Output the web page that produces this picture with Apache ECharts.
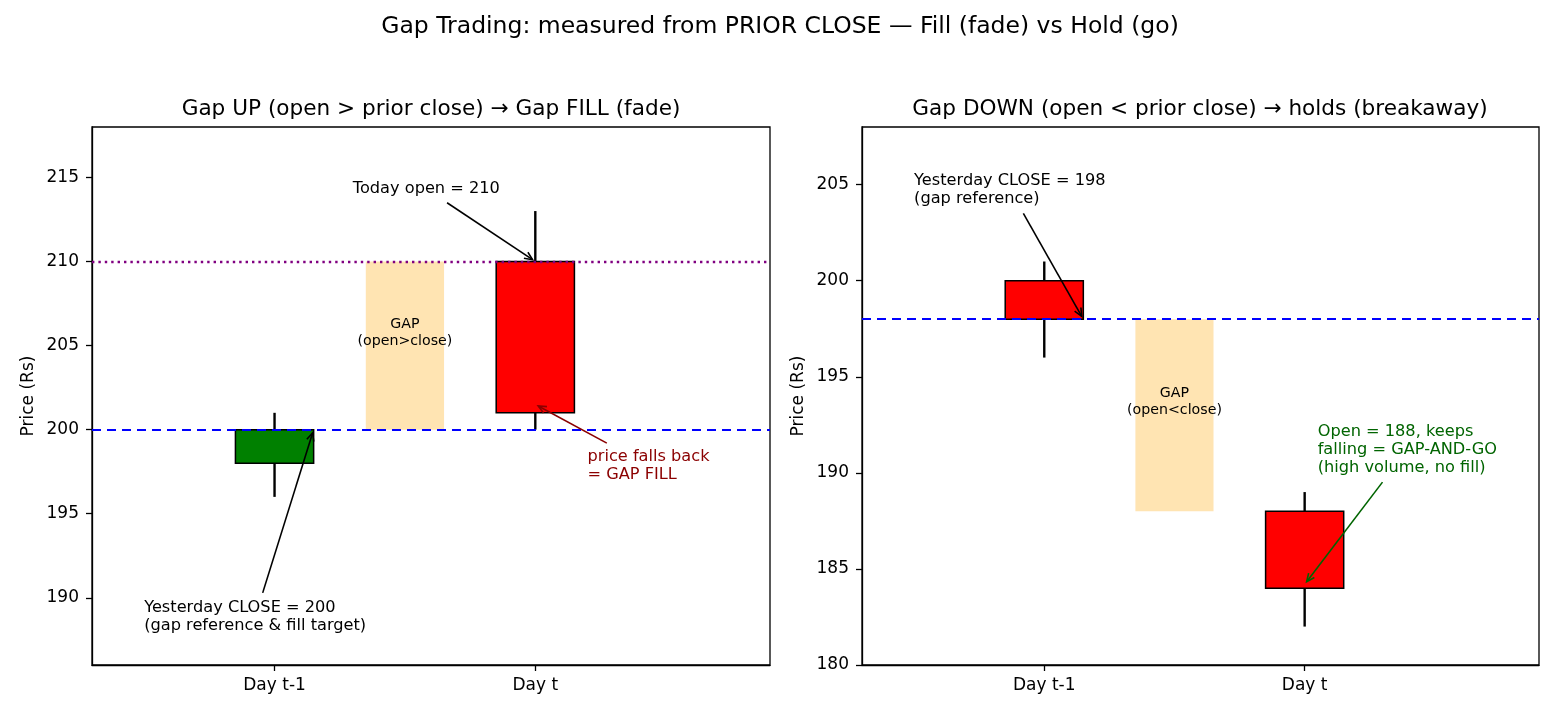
<!DOCTYPE html>
<html><head><meta charset="utf-8">
<script src="https://cdn.jsdelivr.net/npm/echarts@6/dist/echarts.min.js"></script>
<style>html,body{margin:0;padding:0;background:#fff}#c{width:1560px;height:715px}</style>
</head><body><div id="c"></div>
<script>
// ---------- data ----------
const dayLabels = ['Day t-1', 'Day t'];
const dayPos = [0, 1];

// Left panel: Gap UP -> fill
const leftOpen = [198, 210];
const leftClose = [200, 201];
const leftLow = [196, 200];
const leftHigh = [201, 213];
const leftColors = ['#008000', '#ff0000'];
const leftGap = [0.5, 200, 210];          // x, low, high
const leftGapLabel = ['GAP\n(open>close)', 205];
const leftPriorClose = 200;
const leftTodayOpen = 210;
const leftYTicks = [190, 195, 200, 205, 210, 215];
const leftYRange = [186, 218];

// Right panel: Gap DOWN -> holds
const rightOpen = [200, 188];
const rightClose = [198, 184];
const rightLow = [196, 182];
const rightHigh = [201, 189];
const rightColors = ['#ff0000', '#ff0000'];
const rightGap = [0.5, 188, 198];
const rightGapLabel = ['GAP\n(open<close)', 193];
const rightPriorClose = 198;
const rightYTicks = [180, 185, 190, 195, 200, 205];
const rightYRange = [180, 208];

const xRange = [-0.7, 1.9];

// annotations: text, [textX, textY(baseline)], [targetX, targetY], colour
const leftAnnTexts = ['Today open = 210', 'Yesterday CLOSE = 200\n(gap reference & fill target)', 'price falls back\n= GAP FILL'];
const leftAnnTextPos = [[0.3, 214], [-0.5, 188], [1.2, 197]];
const leftAnnTargets = [[1.0, 210], [0.15, 200], [1.0, 201.5]];
const leftAnnColors = ['#000000', '#000000', '#8b0000'];

const rightAnnTexts = ['Yesterday CLOSE = 198\n(gap reference)', 'Open = 188, keeps\nfalling = GAP-AND-GO\n(high volume, no fill)'];
const rightAnnTextPos = [[-0.5, 204], [1.05, 190]];
const rightAnnTargets = [[0.15, 198], [1.0, 184.2]];
const rightAnnColors = ['#000000', '#006400'];

// ---------- styling ----------
const FONT = '"DejaVu Sans", sans-serif';
const CANDLE_W = 0.3;
const ANN_FS = 16.2, ANN_LH = 18;
const GAP_FS = 14.2, GAP_LH = 16.8;
const TICK_FS = 17;

const mctx = document.createElement('canvas').getContext('2d');
function textWidth(s, fs) {
  mctx.font = fs + 'px "DejaVu Sans"';
  return Math.max.apply(null, s.split('\n').map(l => mctx.measureText(l).width));
}

function candleSeries(g, opens, closes, lows, highs, colors) {
  const data = dayPos.map((x, i) => [x, opens[i], closes[i], lows[i], highs[i]]);
  return {
    type: 'custom', xAxisIndex: g, yAxisIndex: g, z: 3, data: data, silent: true,
    encode: { x: 0, y: [1, 2, 3, 4] },
    renderItem: function (params, api) {
      const x = api.value(0);
      const pO = api.coord([x, api.value(1)]), pC = api.coord([x, api.value(2)]);
      const pL = api.coord([x, api.value(3)]), pH = api.coord([x, api.value(4)]);
      const w = api.size([CANDLE_W, 0])[0];
      const top = Math.min(pO[1], pC[1]), bot = Math.max(pO[1], pC[1]);
      return { type: 'group', children: [
        { type: 'line', shape: { x1: pL[0], y1: pL[1], x2: pH[0], y2: pH[1] }, style: { stroke: '#000', lineWidth: 2.4 } },
        { type: 'rect', shape: { x: pO[0] - w / 2, y: top, width: w, height: bot - top }, style: { fill: colors[params.dataIndex], stroke: '#000', lineWidth: 1.5 } }
      ] };
    }
  };
}

function gapSeries(g, gap, label) {
  return {
    type: 'custom', xAxisIndex: g, yAxisIndex: g, z: 1, silent: true,
    data: [[gap[0], gap[1], gap[2], label[1]]],
    encode: { x: 0, y: [1, 2] },
    renderItem: function (params, api) {
      const x = api.value(0);
      const pLo = api.coord([x, api.value(1)]), pHi = api.coord([x, api.value(2)]);
      const pT = api.coord([x, api.value(3)]);
      const w = api.size([CANDLE_W, 0])[0];
      const bottom = pT[1] + GAP_LH / 2 - 0.33 * GAP_FS;
      return { type: 'group', children: [
        { type: 'rect', shape: { x: pLo[0] - w / 2, y: pHi[1], width: w, height: pLo[1] - pHi[1] }, style: { fill: 'rgba(255,165,0,0.3)' } },
        { type: 'text', style: { text: label[0], x: pT[0], y: bottom, font: GAP_FS + 'px ' + FONT, fill: '#000', align: 'center', verticalAlign: 'bottom', lineHeight: GAP_LH } }
      ] };
    }
  };
}

function annSeries(g, texts, tpos, targets, colors, markLines) {
  const data = texts.map((t, i) => [tpos[i][0], tpos[i][1], targets[i][0], targets[i][1]]);
  return {
    type: 'custom', xAxisIndex: g, yAxisIndex: g, z: 5, silent: true, clip: false,
    data: data, encode: { x: [0, 2], y: [1, 3] },
    markLine: { silent: true, symbol: 'none', animation: false, label: { show: false }, data: markLines },
    renderItem: function (params, api) {
      const i = params.dataIndex;
      const t = api.coord([api.value(0), api.value(1)]);
      const p = api.coord([api.value(2), api.value(3)]);
      const txt = texts[i];
      const n = txt.split('\n').length;
      const w = textWidth(txt, ANN_FS);
      const bottom = t[1] + ANN_LH / 2 - 0.33 * ANN_FS;
      const topY = bottom - n * ANN_LH;
      const cx = t[0] + w / 2, cy = (topY + bottom) / 2;
      const PAD = 3, SHRINK = 3.3;
      const hw = w / 2 + PAD, hh = n * ANN_LH / 2 + PAD;
      const dx = p[0] - cx, dy = p[1] - cy;
      const len = Math.hypot(dx, dy);
      const ux = dx / len, uy = dy / len;
      const te = Math.min(Math.abs(ux) > 1e-6 ? hw / Math.abs(ux) : 1e9, Math.abs(uy) > 1e-6 ? hh / Math.abs(uy) : 1e9);
      const sx = cx + ux * (te + SHRINK), sy = cy + uy * (te + SHRINK);
      const ex = p[0] - ux * SHRINK, ey = p[1] - uy * SHRINK;
      const hl = 8, hwid = 3.6;
      const bx = ex - ux * hl, by = ey - uy * hl;
      const col = colors[i];
      return { type: 'group', children: [
        { type: 'text', style: { text: txt, x: t[0], y: bottom, font: ANN_FS + 'px ' + FONT, fill: col, align: 'left', verticalAlign: 'bottom', lineHeight: ANN_LH } },
        { type: 'line', shape: { x1: sx, y1: sy, x2: ex, y2: ey }, style: { stroke: col, lineWidth: 1.6 } },
        { type: 'polyline', shape: { points: [[bx - uy * hwid, by + ux * hwid], [ex, ey], [bx + uy * hwid, by - ux * hwid]] }, style: { stroke: col, lineWidth: 1.6, fill: null } }
      ] };
    }
  };
}

function xAxisOf(g) {
  return {
    type: 'value', gridIndex: g, min: xRange[0], max: xRange[1],
    axisLine: { show: true, onZero: false, lineStyle: { color: '#000', width: 1.3 } },
    axisTick: { show: true, length: 6, customValues: dayPos, lineStyle: { color: '#000', width: 1.3 } },
    axisLabel: { customValues: dayPos, color: '#000', fontSize: TICK_FS, fontFamily: FONT, margin: 12,
      formatter: v => dayLabels[dayPos.indexOf(Math.round(v))] || '' },
    splitLine: { show: false }
  };
}
function yAxisOf(g, range, ticks) {
  return {
    type: 'value', gridIndex: g, min: range[0], max: range[1],
    axisLine: { show: true, onZero: false, lineStyle: { color: '#000', width: 1.3 } },
    axisTick: { show: true, length: 6, customValues: ticks, lineStyle: { color: '#000', width: 1.3 } },
    axisLabel: { customValues: ticks, color: '#000', fontSize: TICK_FS, fontFamily: FONT, margin: 13 },
    splitLine: { show: false },
    name: 'Price (Rs)', nameLocation: 'middle', nameGap: 55,
    nameTextStyle: { color: '#000', fontSize: TICK_FS, fontFamily: FONT }
  };
}

const blueDash = { color: '#0000ff', type: [9, 6], width: 2.2 };
const purpleDot = { color: '#800080', type: [2.4, 4], width: 2.4 };

const option = {
  animation: false,
  backgroundColor: '#fff',
  title: [
    { text: 'Gap Trading: measured from PRIOR CLOSE \u2014 Fill (fade) vs Hold (go)', left: 'center', top: 10,
      textStyle: { fontSize: 23.5, fontWeight: 'normal', color: '#000', fontFamily: FONT } },
    { text: 'Gap UP (open > prior close) \u2192 Gap FILL (fade)', left: 426, top: 93, textAlign: 'center',
      textStyle: { fontSize: 21.6, fontWeight: 'normal', color: '#000', fontFamily: FONT } },
    { text: 'Gap DOWN (open < prior close) \u2192 holds (breakaway)', left: 1195, top: 93, textAlign: 'center',
      textStyle: { fontSize: 21.6, fontWeight: 'normal', color: '#000', fontFamily: FONT } }
  ],
  grid: [
    { left: 92, right: 790, top: 127, bottom: 50, show: true, borderColor: '#000', borderWidth: 1.3, backgroundColor: 'transparent' },
    { left: 862, right: 21, top: 127, bottom: 50, show: true, borderColor: '#000', borderWidth: 1.3, backgroundColor: 'transparent' }
  ],
  xAxis: [xAxisOf(0), xAxisOf(1)],
  yAxis: [yAxisOf(0, leftYRange, leftYTicks), yAxisOf(1, rightYRange, rightYTicks)],
  series: [
    gapSeries(0, leftGap, leftGapLabel),
    candleSeries(0, leftOpen, leftClose, leftLow, leftHigh, leftColors),
    annSeries(0, leftAnnTexts, leftAnnTextPos, leftAnnTargets, leftAnnColors,
      [{ yAxis: leftPriorClose, lineStyle: blueDash }, { yAxis: leftTodayOpen, lineStyle: purpleDot }]),
    gapSeries(1, rightGap, rightGapLabel),
    candleSeries(1, rightOpen, rightClose, rightLow, rightHigh, rightColors),
    annSeries(1, rightAnnTexts, rightAnnTextPos, rightAnnTargets, rightAnnColors,
      [{ yAxis: rightPriorClose, lineStyle: blueDash }])
  ]
};
const chart = echarts.init(document.getElementById('c'));
chart.setOption(option);
</script>
</body></html>
